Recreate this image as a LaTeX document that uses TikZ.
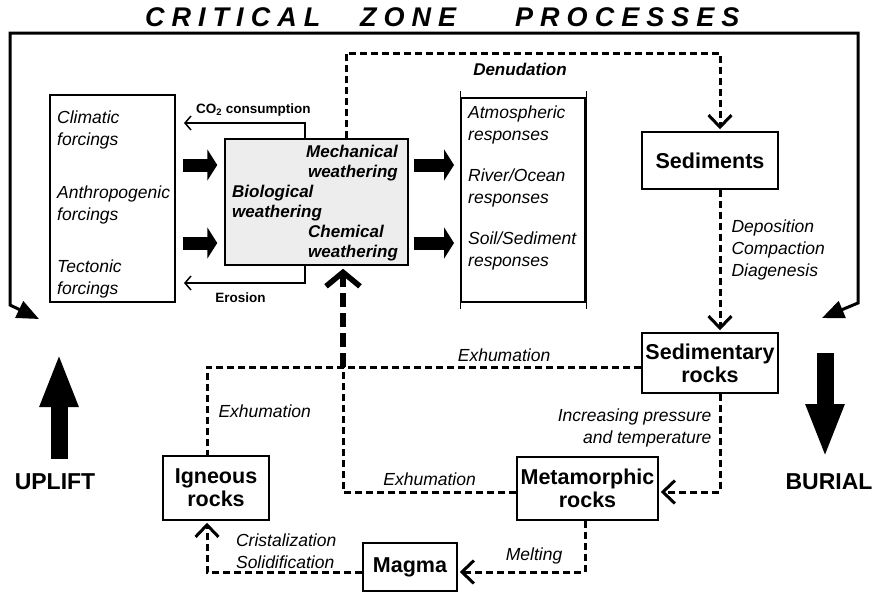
\documentclass[tikz,border=0pt]{standalone}
\usepackage{fontspec}
\setmainfont{Liberation Sans}
\usetikzlibrary{arrows.meta}
\definecolor{boxgray}{RGB}{236,237,236}

\begin{document}
\begin{tikzpicture}[x=1pt, y=-1pt,
    box/.style = {draw, line width=1.5pt, inner sep=0pt},
    rock/.style = {box, font=\fontsize{21.5}{23}\selectfont\bfseries, align=center},
    txt/.style = {font=\fontsize{17.5}{22}\selectfont\itshape, align=left, inner sep=0pt},
    wtxt/.style = {font=\fontsize{17}{19.5}\selectfont\bfseries\itshape, inner sep=0pt},
    small/.style = {font=\fontsize{13.5}{16}\selectfont\bfseries, inner sep=0pt},
    big/.style = {font=\fontsize{23}{26}\selectfont\bfseries, inner sep=0pt},
    ttl/.style = {font=\fontsize{27}{30}\selectfont\bfseries\itshape\addfontfeature{LetterSpace=26}, inner sep=0pt, anchor=base west},
    dashline/.style = {line width=3pt, dash pattern=on 7pt off 4pt},
    barb/.style = {-{Straight Barb[length=12pt, width=23pt]}, shorten >=2pt},
    thinarrow/.style = {line width=1.5pt, -{Straight Barb[length=6pt, width=14pt]}, shorten >=8pt},
    block/.style = {line width=13pt, -{Triangle[length=10pt, width=31pt]}},
    frame/.style = {line width=3pt, line join=miter, {Triangle[length=22pt, width=18pt]}-{Triangle[length=22pt, width=18pt]}},
    ]
  \useasboundingbox (0,0) rectangle (877,592);

  % title
  \node[ttl] (tcrit) at (145,26) {CRITICAL};
  \node[ttl] (tzone) at (360,26) {ZONE};
  \node[ttl] (tproc) at (515,26) {PROCESSES};

  % outer frame
  \coordinate (fla) at (39,319);
  \coordinate (flb) at (10,305);
  \coordinate (fl) at (10,33);
  \coordinate (fr) at (858,33);
  \coordinate (frb) at (858,303);
  \coordinate (fra) at (822,318);
  \draw[frame] (fla) -- (flb) -- (fl) -- (fr) -- (frb) -- (fra);

  % boxes (text anchors are on the last line)
  \node[box, line width=2pt, minimum width=125pt, minimum height=207pt] (forc) at (112.5,198.5) {};
  \node[txt, anchor=base west] (clim) at (57,145) {Climatic\\forcings};
  \node[txt, anchor=base west] (anth) at (57,220) {Anthropogenic\\forcings};
  \node[txt, anchor=base west] (tect) at (57,294) {Tectonic\\forcings};

  \node[box, fill=boxgray, minimum width=183pt, minimum height=126pt] (weath) at (316.5,202) {};
  \node[wtxt, align=right, anchor=base east] (mech) at (398,177) {Mechanical\\weathering};
  \node[wtxt, align=left, anchor=base west] (bio) at (232,217) {Biological\\weathering};
  \node[wtxt, align=left, anchor=base west] (chem) at (308,257) {Chemical\\weathering};

  \node[box, line width=2pt, minimum width=124pt, minimum height=204pt] (resp) at (523,200) {};
  \draw[line width=1pt] ([yshift=6pt]resp.north west) -- ([yshift=-6pt]resp.south west);
  \draw[line width=1pt] ([yshift=6pt]resp.north east) -- ([yshift=-6pt]resp.south east);
  \node[txt, anchor=base west] (atm) at (468,140) {Atmospheric\\responses};
  \node[txt, anchor=base west] (riv) at (468,203) {River/Ocean\\responses};
  \node[txt, anchor=base west] (soil) at (468,266) {Soil/Sediment\\responses};

  \node[rock, minimum width=136pt, minimum height=57pt] (sed) at (710,160.5) {Sediments};
  \node[rock, minimum width=136pt, minimum height=60pt] (sedrock) at (710,363) {Sedimentary\\rocks};
  \node[rock, minimum width=141pt, minimum height=63pt] (meta) at (587.5,488.5) {Metamorphic\\rocks};
  \node[rock, minimum width=106pt, minimum height=64pt] (ign) at (216,488) {Igneous\\rocks};
  \node[rock, minimum width=94pt, minimum height=48pt] (magma) at (410,567) {Magma};

  % block arrows
  \coordinate (ba) at (0,165);
  \coordinate (bb) at (0,243);
  \foreach \b in {ba,bb} {
    \draw[block, shorten <=7pt, shorten >=7pt] (forc.east |- \b) -- (weath.west |- \b);
    \draw[block, shorten <=5pt, shorten >=6pt] (weath.east |- \b) -- (resp.west |- \b);
  }

  % co2 and erosion
  \coordinate (co) at (305,123);
  \coordinate (er) at (305,283);
  \draw[thinarrow] (weath.north -| co) -- (co) -- node[small, above=6pt, pos=0.4] {CO\textsubscript{2} consumption} (forc.east |- co);
  \draw[thinarrow] (weath.south -| er) -- (er) -- node[small, below=9pt, pos=0.5] {Erosion} (forc.east |- er);

  % rock cycle
  \coordinate (dl) at (346,53);
  \coordinate (dr) at (720,53);
  \draw[dashline, barb] (weath.north -| dl) -- (dl) -- (dr) -- (sed.north -| dr);
  \node[wtxt] (den) at (520,69) {Denudation};

  \draw[dashline, barb] (sed.south -| dr) -- node[txt, right=10pt, pos=0.42] {Deposition\\Compaction\\Diagenesis} (sedrock.north -| dr);

  \coordinate (mt) at (720,492);
  \draw[dashline, barb] (sedrock.south -| mt) -- node[txt, align=right, left=7pt, pos=0.35] {Increasing pressure\\and temperature} (mt) -- (meta.east |- mt);

  \coordinate (j) at (343,367);
  \coordinate (ex) at (207,367);
  \draw[dashline] (sedrock.west |- j) -- node[txt, above=4pt, pos=0.46] {Exhumation} (j) -- (ex) -- node[txt, right=10pt] {Exhumation} (ign.north -| ex);
  \draw[line width=5.5pt, dash pattern=on 14pt off 6pt, -{Straight Barb[length=14pt, width=34pt]}, shorten >=3pt] (j) -- (weath.south -| j);

  \coordinate (mj) at (343,492);
  \draw[dashline] (meta.west |- mj) -- node[txt, above=5pt] {Exhumation} (mj) -- (j);

  \coordinate (ml) at (585,572);
  \draw[dashline, barb] (meta.south -| ml) -- (ml) -- node[txt, above=6pt, pos=0.4] {Melting} (magma.east |- ml);

  \coordinate (ci) at (207,572);
  \draw[dashline, barb] (magma.west |- ci) -- node[txt, above=2pt, pos=0.49] {Cristalization\\Solidification} (ci) -- (ign.south -| ci);

  % uplift and burial
  \node[big] (upl) at (55,482) {UPLIFT};
  \coordinate (upbot) at (59,459);
  \coordinate (uptip) at (59,353);
  \draw[line width=17pt, -{Triangle[length=54pt, width=35pt]}] (upbot) -- (uptip);

  \node[big] (bur) at (829,482) {BURIAL};
  \coordinate (butop) at (825,353);
  \coordinate (butip) at (825,458);
  \draw[line width=17pt, -{Triangle[length=54pt, width=35pt]}] (butop) -- (butip);
\end{tikzpicture}
\end{document}
